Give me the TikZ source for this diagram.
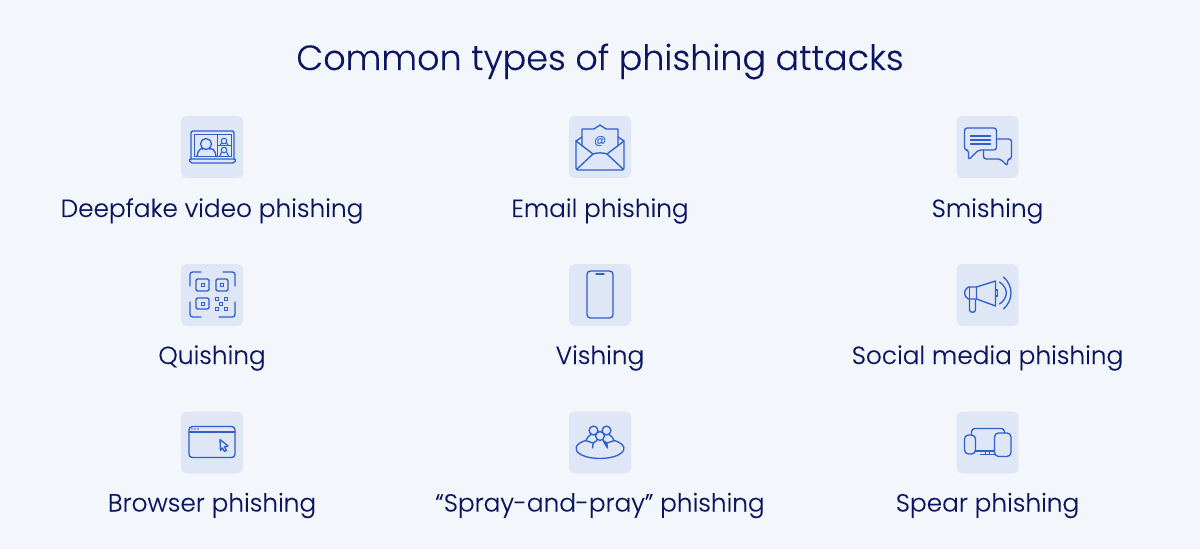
\documentclass[tikz,border=0pt]{standalone}
\usepackage{fontspec}
\setmainfont{Poppins}[UprightFont=* Light,UprightFeatures={FakeBold=0.25}]
\definecolor{pagebg}{HTML}{F3F6FA}
\definecolor{tilebg}{HTML}{DFE7F7}
\definecolor{iconblue}{HTML}{2F5FCB}
\definecolor{inknavy}{HTML}{0B1560}
\tikzset{
  tile/.style={fill=tilebg,rounded corners=4pt,minimum width=46.5pt,minimum height=46.5pt,inner sep=0pt},
  caption/.style={anchor=base,text=inknavy,inner sep=0pt,font=\fontsize{18.6}{24}\selectfont},
  icon/.style={draw=iconblue,line width=1pt,line join=round,line cap=round},
  thin icon/.style={draw=iconblue,line width=0.75pt}
}
\begin{document}
\begin{tikzpicture}[x=0.75pt,y=0.75pt,yscale=-1,xscale=1]
    \fill[pagebg] (0,0) rectangle (1200,549);
    \useasboundingbox (0,0) rectangle (1200,549);
    % Title
    \node (titleText) [anchor=base,text=inknavy,inner sep=0pt,font=\fontsize{26.2}{32}\selectfont] at (600,70) {Common types of phishing attacks};
    % Tiles
    \node (tileDeepfake) [tile] at (212,147) {};
    \node (tileEmail) [tile] at (600,147) {};
    \node (tileSmishing) [tile] at (987.5,147) {};
    \node (tileQuishing) [tile] at (212,295) {};
    \node (tileVishing) [tile] at (600,295) {};
    \node (tileSocial) [tile] at (987.5,295) {};
    \node (tileBrowser) [tile] at (212,442.5) {};
    \node (tileSpray) [tile] at (600,442.5) {};
    \node (tileSpear) [tile] at (987.5,442.5) {};
    % Captions
    \node (textDeepfake) [caption] at (212,217) {Deepfake video phishing};
    \node (textEmail) [caption] at (600,217) {Email phishing};
    \node (textSmishing) [caption] at (987.5,217) {Smishing};
    \node (textQuishing) [caption] at (212,364) {Quishing};
    \node (textVishing) [caption] at (600,364) {Vishing};
    \node (textSocial) [caption] at (987.5,364) {Social media phishing};
    \node (textBrowser) [caption] at (212,511.5) {Browser phishing};
    \node (textSpray) [caption] at (600,511.5) {“Spray-and-pray” phishing};
    \node (textSpear) [caption] at (987.5,511.5) {Spear phishing};
    % Laptop with call
    \begin{scope}[shift={(tileDeepfake.center)}]
      \draw[icon] (-21,12) -- (-21,-14) .. controls (-21,-15.5) and (-20,-16) .. (-19,-16) -- (20,-16) .. controls (21,-16) and (22,-15.5) .. (22,-14) -- (22,12);
      \draw[icon,rounded corners=1.5pt] (-23,12) -- (24,12) -- (23,16) -- (-22,16) -- cycle;
      \draw[thin icon] (-18,-12) rectangle (19,9.5);
      \draw[thin icon] (5,-12) -- (5,9.5) (5,-1) -- (19,-1);
      \draw[icon] (-6,-3) circle (5.5);
      \draw[icon] (-15,9.5) .. controls (-14,1) and (-10,1.5) .. (-9,2) (-3,2) .. controls (-1,1.5) and (3,1) .. (4,9.5);
      \draw[thin icon] (12,-6) circle (2.8) (12,3) circle (2.8);
      \draw[thin icon] (8,-1) .. controls (8,-3) and (9,-3.5) .. (10,-3.5) (14,-3.5) .. controls (15,-3.5) and (16,-3) .. (16.5,-1);
      \draw[thin icon] (8,9.5) .. controls (8,6.5) and (9,5.5) .. (10,5.5) (14,5.5) .. controls (15,5.5) and (16,6.5) .. (16.5,9.5);
    \end{scope}
    % Envelope
    \begin{scope}[shift={(tileEmail.center)}]
      \draw[icon] (-18,-1) -- (-18,-18) -- (-6,-18) -- (0,-22) -- (6,-18) -- (18,-18) -- (18,-1);
      \draw[icon] (-18,-10) -- (-24,-6) -- (-24,21) .. controls (-24,22) and (-23,23) .. (-22,23) -- (22,23) .. controls (23,23) and (24,22) .. (24,21) -- (24,-6) -- (18,-10);
      \draw[icon] (-24,-6) -- (-7,7) .. controls (-3,5.5) and (3,5.5) .. (7,7) -- (24,-6);
      \draw[icon] (-23,22) -- (-7,7) (23,22) -- (7,7);
      \node (atSign) [text=iconblue,inner sep=0pt,font=\fontsize{9}{10}\selectfont] at (0,-6) {@};
    \end{scope}
    % Chat bubbles
    \begin{scope}[shift={(tileSmishing.center)}]
      \draw[icon,rounded corners=2pt] (-19,13) -- (-19,3) -- (-23,3) -- (-23,-19) -- (9,-19) -- (9,3) -- (-9,3) -- cycle;
      \draw[icon] (-17,-11) -- (3,-11) (-17,-7) -- (3,-7) (-17,-3) -- (3,-3);
      \draw[icon,rounded corners=2pt] (9,-8) -- (24,-8) -- (24,12) -- (20,12) -- (20,19) -- (13,12) -- (-4,12) -- (-4,3);
    \end{scope}
    % QR code
    \begin{scope}[shift={(tileQuishing.center)}]
      \draw[icon,rounded corners=2pt] (-22,-9) -- (-22,-23) -- (-11,-23);
      \draw[icon,rounded corners=2pt] (11,-23) -- (23,-23) -- (23,-9);
      \draw[icon,rounded corners=2pt] (-22,7) -- (-22,22) -- (-11,22);
      \draw[icon,rounded corners=2pt] (7,22) -- (23,22) -- (23,7);
      \draw[icon,rounded corners=1pt] (-16,-16) rectangle (-3,-4);
      \draw[icon,rounded corners=1pt] (4,-16) rectangle (16,-4);
      \draw[icon,rounded corners=1pt] (-16,3) rectangle (-3,14);
      \draw[thin icon] (-10.5,-11.5) rectangle (-7.5,-8.5) (8.5,-11.5) rectangle (11.5,-8.5) (-10.5,7.5) rectangle (-7.5,10.5);
      \draw[thin icon] (3.5,2.5) rectangle (6.5,5.5) (12.5,2.5) rectangle (15.5,5.5) (7.5,7.5) rectangle (10.5,10.5) (3.5,12.5) rectangle (6.5,15.5) (12.5,12.5) rectangle (15.5,15.5);
    \end{scope}
    % Phone
    \begin{scope}[shift={(tileVishing.center)}]
      \draw[icon,rounded corners=2.5pt] (-13,-24) rectangle (13,23);
      \draw[icon] (-4,-21) -- (4,-21);
    \end{scope}
    % Megaphone
    \begin{scope}[shift={(tileSocial.center)}]
      \draw[icon] (-11,-8) -- (8,-14) -- (8,11) -- (-11,4) -- cycle;
      \draw[icon] (-11,-8) -- (-19,-8) .. controls (-22,-6) and (-23,-4) .. (-23,-2) .. controls (-23,1) and (-21,3) .. (-19,4) -- (-11,4);
      \draw[icon] (-18,-8) -- (-18,4);
      \draw[icon] (-18,4) -- (-18,15) .. controls (-18,18) and (-12,18) .. (-12,15) -- (-12,5);
      \draw[icon] (8,-5) -- (10,-5) -- (10,1) -- (8,1);
      \draw[icon] (12,-13) .. controls (21,-7) and (21,3) .. (12,9);
      \draw[icon] (16,-18) .. controls (26,-9) and (26,5) .. (16,14);
    \end{scope}
    % Browser window
    \begin{scope}[shift={(tileBrowser.center)}]
      \draw[icon,rounded corners=2.5pt] (-23,-16) rectangle (23,15);
      \draw[icon] (-23,-10.5) -- (23,-10.5);
      \fill[iconblue] (-20,-13.5) circle (0.8) (-17,-13.5) circle (0.8) (-14,-13.5) circle (0.8);
      \draw[icon] (8,-3) -- (16,3.5) -- (12.5,4.5) -- (14.5,8) -- (12.5,9) -- (10.5,5.5) -- (8.5,8) -- cycle;
    \end{scope}
    % People on a disc
    \begin{scope}[shift={(tileSpray.center)}]
      \draw[icon] (-13.8,-2.2) arc (235:-55:24 and 10);
      \draw[icon] (-6.5,-12) circle (4.4) (6.5,-12) circle (4.4) (0,-6.5) circle (4.4);
      \draw[icon] (-7.5,5.5) .. controls (-7.5,0) and (-5,-1.5) .. (-3,-2) (3,-2) .. controls (5,-1.5) and (7.5,0) .. (7.5,5.5) -- cycle;
      \draw[icon] (-14,-1.5) .. controls (-13,-5) and (-11,-7) .. (-9,-8) (14,-1.5) .. controls (13,-5) and (11,-7) .. (9,-8);
      \draw[icon] (-13,-1.5) -- (-7,0.5) (13,-1.5) -- (7,0.5);
    \end{scope}
    % Devices
    \begin{scope}[shift={(tileSpear.center)}]
      \draw[icon,rounded corners=2.5pt] (-16,-7.5) -- (-16,-14) -- (17,-14) -- (17,-9.5);
      \draw[icon] (-12,8.5) -- (7,8.5);
      \draw[icon] (-2,8.5) -- (-2,12) (2,8.5) -- (2,12) (-7,12) -- (7,12);
      \draw[icon,rounded corners=3pt] (-23,-7.5) rectangle (-12,11.5);
      \draw[icon,rounded corners=3pt] (7,-9.5) rectangle (23.5,14);
    \end{scope}
\end{tikzpicture}
\end{document}
